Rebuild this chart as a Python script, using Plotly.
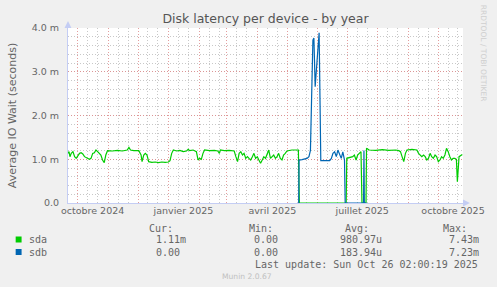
import pandas as pd
import plotly.graph_objects as go

# ---------------- data ----------------
chart_title = "Disk latency per device - by year"
y_title = "Average IO Wait (seconds)"
series_names = ["sda", "sdb"]
series_colors = ["#00CC00", "#0066B3"]

period_start = pd.Timestamp("2024-09-21 02:00:19")
period_end = pd.Timestamp("2025-10-26 02:00:19")

# days since period_start, values in milliseconds
sda_day = [0, 1, 2, 3.3, 5, 6.7, 8.3, 10, 11.7, 13.3,
           15, 16.7, 18.3, 20, 21.7, 23.3, 25, 26.7, 28.3, 30,
           31.7, 33.3, 35, 36.7, 38.3, 40, 45, 50, 55, 60,
           61.7, 63.3, 66.7, 71.7, 74, 75, 76.7, 78.3, 80, 81.7,
           85, 88.3, 91.7, 95, 98.3, 101.7, 103.3, 105, 106.7, 110,
           113.3, 116.7, 120, 121.7, 123.3, 126.7, 130, 131.7, 133.3, 135,
           136.7, 138.3, 143.3, 148.3, 151.7, 153.3, 154.3, 158.3, 163.3, 168.3,
           170, 171.7, 173.3, 175, 176.7, 178.3, 180, 181.7, 183.3, 185,
           186.7, 188.3, 190, 191.7, 193.3, 195, 196.7, 198.3, 200, 201.7,
           203.3, 205, 206.7, 208.3, 210, 211.7, 213.3, 215, 216.7, 218.3,
           220, 221.7, 226.7, 233.3, 234.3, 281.7, 282.3, 285, 288.3, 290,
           291.7, 293.3, 295, 296.7, 297.7, 301.8, 302.3, 305, 311.7, 318.3,
           325, 331.7, 335, 336.7, 338.3, 340, 341.7, 343.3, 348.3, 353.3,
           355, 356.7, 358.3, 360, 361.7, 363.3, 365, 366.7, 368.3, 370,
           371.7, 373.3, 375, 376.7, 378.3, 380, 381.7, 383.3, 385, 386.7,
           388.3, 390, 391.7, 393.3, 394.3, 396, 397.7, 399.3]
sda_ms = [1.135, 1.173, 1.059, 1.135, 1.173, 1.059, 1.021, 1.097, 1.135, 1.150,
          1.12, 1.059, 1.044, 1.021, 0.998, 1.021, 1.135, 1.150, 1.211, 1.173,
          1.135, 1.097, 0.983, 0.922, 1.097, 1.196, 1.189, 1.204, 1.189, 1.211,
          1.272, 1.211, 1.196, 1.196, 1.097, 0.945, 1.097, 1.135, 1.097, 0.945,
          0.930, 0.937, 0.922, 0.937, 0.930, 0.937, 0.968, 1.135, 1.211, 1.189,
          1.204, 1.173, 1.189, 1.227, 1.196, 1.211, 1.173, 0.983, 1.021, 0.998,
          1.135, 1.211, 1.196, 1.204, 1.189, 1.135, 1.211, 1.196, 1.204, 1.189,
          1.059, 0.945, 1.135, 1.173, 1.097, 1.135, 1.021, 1.059, 1.021, 0.983,
          1.059, 1.135, 1.021, 1.059, 0.983, 0.907, 0.983, 1.059, 1.021, 1.135,
          1.211, 1.021, 1.059, 1.097, 1.021, 1.059, 1.135, 1.021, 0.983, 1.097,
          1.135, 1.189, 1.211, 1.211, 0.0, 0.0, 1.021, 1.044, 1.059, 1.097,
          0.983, 1.097, 1.135, 1.173, 0.0, 0.0, 1.249, 1.211, 1.204, 1.219,
          1.204, 1.211, 1.196, 1.173, 1.059, 0.945, 1.135, 1.211, 1.227, 1.211,
          1.135, 1.097, 1.059, 1.097, 1.059, 0.983, 1.021, 1.135, 1.059, 1.021,
          1.097, 1.059, 0.945, 0.983, 1.059, 1.021, 1.097, 1.249, 1.173, 1.059,
          0.983, 1.021, 1.021, 0.998, 0.487, 1.059, 1.097, 1.11]

sdb_day = [233.6, 234.0, 237.0, 240.0, 242.0, 244.0, 245.5, 248.0, 249.0, 250.3,
           254.3, 256.0, 258.3, 261.7, 265.0, 266.7, 268.3, 270.0, 271.7, 273.3,
           275.0, 276.7, 278.3, 280.0, 280.7, 299.3, 299.7, 300.1, 302.3]
sdb_ms = [0.0, 0.98, 0.99, 1.0, 1.02, 1.06, 1.2, 3.72, 3.77, 2.66,
          3.89, 0.97, 0.97, 0.98, 0.97, 1.02, 1.135, 1.17, 1.06, 1.21,
          1.1, 1.02, 1.17, 0.98, 0.0, 0.0, 1.2, 0.0, 0.0]

y_tick_vals = [0, 1, 2, 3, 4]
y_tick_text = ["0.0", "1.0 m", "2.0 m", "3.0 m", "4.0 m"]

x_label_dates = ["2024-10-16", "2025-01-16", "2025-04-16", "2025-07-16", "2025-10-16"]
x_label_text = ["octobre 2024", "janvier 2025", "avril 2025", "juillet 2025", "octobre 2025"]

legend_headers = ["Cur:", "Min:", "Avg:", "Max:"]
legend_cur = ["1.11m", "0.00"]
legend_min = ["0.00", "0.00"]
legend_avg = ["980.97u", "183.94u"]
legend_max = ["7.43m", "7.23m"]
last_update = "Last update: Sun Oct 26 02:00:19 2025"
footer_text = "Munin 2.0.67"
watermark_text = "RRDTOOL / TOBI OETIKER"

# ---------------- layout helpers ----------------
W, H = 497, 287
ML, MR, MT, MB = 67, 30, 28, 84
PW, PH = W - ML - MR, H - MT - MB


def px_x(p):
    return (p - ML) / PW


def px_y(p):
    return (H - MB - p) / PH


def to_dates(days):
    return [period_start + pd.Timedelta(days=d) for d in days]


SANS = "DejaVu Sans"
MONO = "DejaVu Sans Mono"
TXT = "#666666"
AXIS = "#C4CDF4"
MGRID = "rgba(222,140,140,0.85)"
GRID = "rgba(190,190,190,0.85)"

month_starts = list(pd.date_range("2024-10-01", "2025-10-01", freq="MS"))
minor_x = []
for m in pd.date_range("2024-09-01", "2025-10-01", freq="MS"):
    minor_x += [m + pd.Timedelta(days=10), m + pd.Timedelta(days=20)]

fig = go.Figure()
fig.add_trace(go.Scatter(
    x=to_dates(sda_day), y=sda_ms, mode="lines", name=series_names[0],
    line=dict(color=series_colors[0], width=1.2), xaxis="x", yaxis="y",
    showlegend=False, hoverinfo="skip"))
fig.add_trace(go.Scatter(
    x=to_dates(sdb_day), y=sdb_ms, mode="lines", name=series_names[1],
    line=dict(color=series_colors[1], width=1.2), xaxis="x2", yaxis="y",
    showlegend=False, hoverinfo="skip"))

fig.update_layout(
    width=W, height=H,
    margin=dict(l=ML, r=MR, t=MT, b=MB, pad=0),
    paper_bgcolor="#F0F0F0", plot_bgcolor="#FFFFFF",
    font=dict(family=SANS, size=10, color=TXT),
    title=dict(text=chart_title, x=0.5, xanchor="center", xref="paper",
               y=1 - 19 / H, yanchor="middle",
               font=dict(family=SANS, size=12.5, color="#555555")),
    xaxis=dict(
        range=[period_start, period_end], type="date",
        tickmode="array", tickvals=month_starts, showticklabels=False, ticks="",
        showgrid=True, gridcolor=MGRID, griddash="1px,2px", gridwidth=1,
        minor=dict(tickmode="array", tickvals=minor_x, showgrid=True,
                   gridcolor=GRID, griddash="1px,2px", gridwidth=1, ticks=""),
        showline=True, linecolor=AXIS, linewidth=1, zeroline=False,
        fixedrange=True),
    xaxis2=dict(
        range=[period_start, period_end], type="date", overlaying="x",
        anchor="y", side="bottom",
        tickmode="array", tickvals=x_label_dates, ticktext=x_label_text,
        ticks="", showgrid=False, showline=False, zeroline=False,
        tickfont=dict(family=SANS, size=9.5, color=TXT), fixedrange=True),
    yaxis=dict(
        range=[0, 4], tickmode="array", tickvals=y_tick_vals, ticktext=y_tick_text,
        ticks="", ticklabelstandoff=6,
        tickfont=dict(family=SANS, size=9.5, color=TXT),
        showgrid=True, gridcolor=MGRID, griddash="1px,2px", gridwidth=1,
        minor=dict(tick0=0, dtick=0.2, showgrid=True, gridcolor=GRID,
                   griddash="1px,2px", gridwidth=1, ticks=""),
        showline=True, linecolor=AXIS, linewidth=1, zeroline=False,
        title=dict(text=y_title, font=dict(family=SANS, size=11, color=TXT), standoff=12),
        fixedrange=True),
)

# axis arrows
fig.add_shape(type="path", xref="paper", yref="paper",
              path=f"M {px_x(63.5)},{px_y(28)} L {px_x(70.5)},{px_y(28)} L {px_x(67)},{px_y(21)} Z",
              fillcolor=AXIS, line=dict(width=0))
fig.add_shape(type="path", xref="paper", yref="paper",
              path=f"M {px_x(467)},{px_y(199.5)} L {px_x(467)},{px_y(206.5)} L {px_x(474)},{px_y(203)} Z",
              fillcolor=AXIS, line=dict(width=0))


def text(x, y, s, size=10, family=MONO, color=TXT, anchor="left", angle=0):
    fig.add_annotation(x=px_x(x), y=px_y(y), xref="paper", yref="paper",
                       text=s, showarrow=False, xanchor=anchor, yanchor="middle",
                       textangle=angle, borderpad=0, borderwidth=0,
                       font=dict(family=family, size=size, color=color))


# legend table
header_x = [149, 250, 348, 447]
for hx, h in zip(header_x, legend_headers):
    text(hx, 228, h)
row_y = [239.5, 252]
for i, name in enumerate(series_names):
    fig.add_shape(type="rect", xref="paper", yref="paper",
                  x0=px_x(14), x1=px_x(20), y0=px_y(row_y[i] - 3), y1=px_y(row_y[i] + 3),
                  fillcolor=series_colors[i], line=dict(width=0))
    text(27, row_y[i], name)
    text(156, row_y[i], legend_cur[i])
    text(255, row_y[i], legend_min[i])
    text(342, row_y[i], legend_avg[i])
    text(453, row_y[i], legend_max[i])
text(482, 264, last_update, anchor="right")
text(248, 276, footer_text, size=7.6, family=SANS, color="#C0C0C0", anchor="center")
text(488, 53.5, watermark_text, size=7.5, family=SANS, color="#CFCFCF", anchor="center", angle=90)

fig.write_html("out.html")
